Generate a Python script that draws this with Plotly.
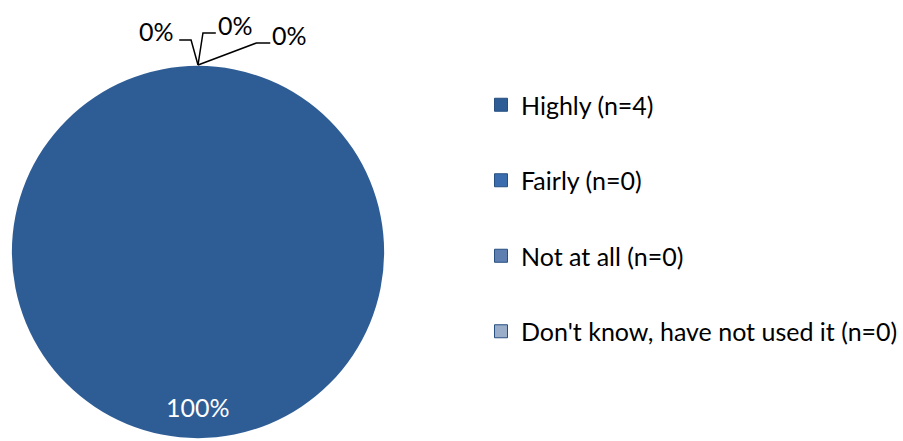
import plotly.graph_objects as go

# ---- data ----
categories = ["Highly (n=4)", "Fairly (n=0)", "Not at all (n=0)", "Don't know, have not used it (n=0)"]
counts = [4, 0, 0, 0]
colors = ["#2e5d96", "#3b6dae", "#5f7fb1", "#9aadc9"]

W, H = 903, 441
FONT = "Lato"

def px(x):
    return x / W

def py(y):
    return 1 - y / H

total = sum(counts)
pct_text = [f"{c / total * 100:.0f}%" for c in counts]

fig = go.Figure()

# pie (centre ~ (200,252), radius ~188 px)
fig.add_trace(go.Pie(
    labels=categories,
    values=counts,
    sort=False,
    direction="clockwise",
    rotation=0,
    marker=dict(colors=colors, line=dict(width=0)),
    textinfo="none",
    hoverinfo="label+percent",
    showlegend=False,
    domain=dict(x=[px(12), px(388)], y=[py(440), py(64)]),
))

# legend entries (one group each so spacing can be set)
for cat, col in zip(categories, colors):
    fig.add_trace(go.Scatter(
        x=[None], y=[None], mode="markers", name=cat,
        legendgroup=cat,
        marker=dict(symbol="square", size=13, color=col,
                    line=dict(width=1, color="#274f80")),
        hoverinfo="skip",
    ))

# data labels
label_pos = [(200, 407), (158, 31), (238, 25), (292, 35)]
for i, (t, (lx, ly)) in enumerate(zip(pct_text, label_pos)):
    fig.add_annotation(
        x=px(lx), y=py(ly), xref="paper", yref="paper",
        text=t, showarrow=False,
        font=dict(family=FONT, size=25, color="white" if i == 0 else "black"),
        xanchor="center", yanchor="middle",
    )

# leader lines for the zero slices
leaders = [
    [(200, 65), (193, 40), (181, 40)],
    [(200, 65), (205, 33), (218, 33)],
    [(200, 65), (259, 43), (273, 43)],
]
for pts in leaders:
    path = "M " + " L ".join(f"{px(x)},{py(y)}" for x, y in pts)
    fig.add_shape(type="path", path=path, xref="paper", yref="paper",
                  line=dict(color="black", width=1.5))

fig.update_layout(
    width=W, height=H,
    margin=dict(l=0, r=0, t=0, b=0),
    paper_bgcolor="white",
    plot_bgcolor="white",
    xaxis=dict(visible=False),
    yaxis=dict(visible=False),
    font=dict(family=FONT, size=25, color="black"),
    showlegend=True,
    legend=dict(
        x=px(486), y=py(82), xanchor="left", yanchor="top",
        font=dict(family=FONT, size=25, color="black"),
        tracegroupgap=40,
        itemsizing="trace",
        bgcolor="rgba(0,0,0,0)",
    ),
)

fig.write_html(
    "out.html",
    config={"displayModeBar": False},
    post_script="document.body.style.margin='0';document.body.style.overflow='hidden';",
)
